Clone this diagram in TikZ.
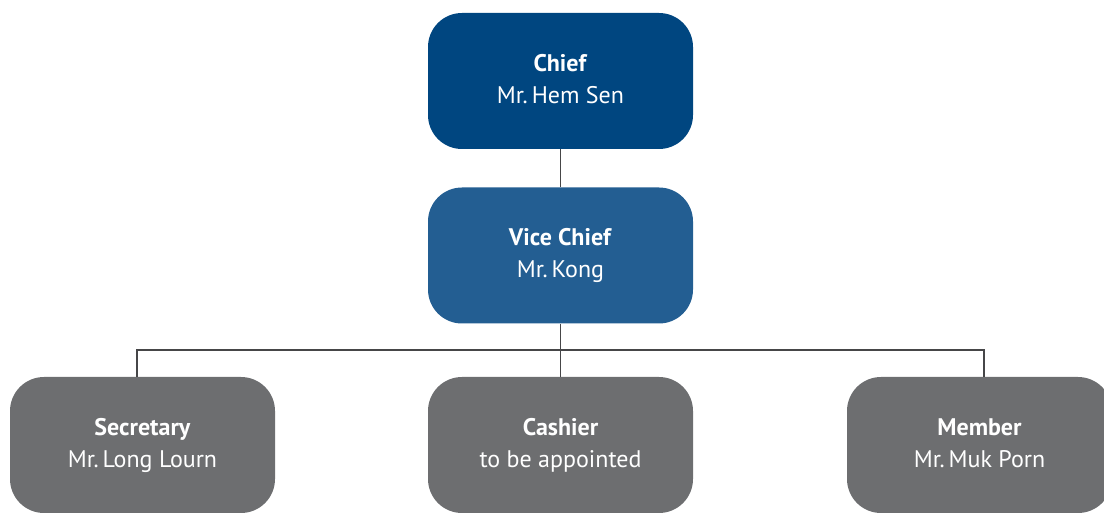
\documentclass[tikz,border=0pt]{standalone}
\usepackage{fontspec}
\setmainfont{PT Sans}
\usepackage{tikz}
\usetikzlibrary{positioning,calc}
\definecolor{azulOscuro}{RGB}{0, 70, 128}
\definecolor{azulMedio}{RGB}{35, 94, 146}
\definecolor{grisCaja}{RGB}{109, 110, 112}
\definecolor{grisLinea}{RGB}{70, 70, 72}
\tikzstyle{box}  =[rounded corners=34pt, minimum width=265pt,
                   minimum height=136pt, inner sep=0pt, align=center,
                   text=white, font=\fontsize{24}{32}\selectfont]
\tikzstyle{edge} =[grisLinea, line width=1.4pt]

\begin{document}
\begin{tikzpicture}[x=1pt,y=1pt]
    \useasboundingbox (0,0) rectangle (1104,512);

    \draw (560.5,431) node (chief) [box, fill=azulOscuro] {\strut\textbf{Chief}\\\strut Mr.\,Hem Sen};
    \draw (560.5,256.5) node (vice) [box, fill=azulMedio] {\strut\textbf{Vice Chief}\\\strut Mr.\,Kong};
    \draw (142.5,67) node (secretary) [box, fill=grisCaja] {\strut\textbf{Secretary}\\\strut Mr.\,Long Lourn};
    \draw (560.5,67) node (cashier) [box, fill=grisCaja] {\strut\textbf{Cashier}\\\strut to be appointed};
    \draw (979.5,67) node (member) [box, fill=grisCaja] {\strut\textbf{Member}\\\strut Mr.\,Muk Porn};

    \coordinate (busL) at (137,162);
    \coordinate (busR) at (984,162);

    \draw [edge] (chief) -- (vice);
    \draw [edge] (vice) -- (cashier);
    \draw [edge] (busL |- secretary.north) -- (busL) -- (busR) -- (busR |- member.north);
\end{tikzpicture}
\end{document}
